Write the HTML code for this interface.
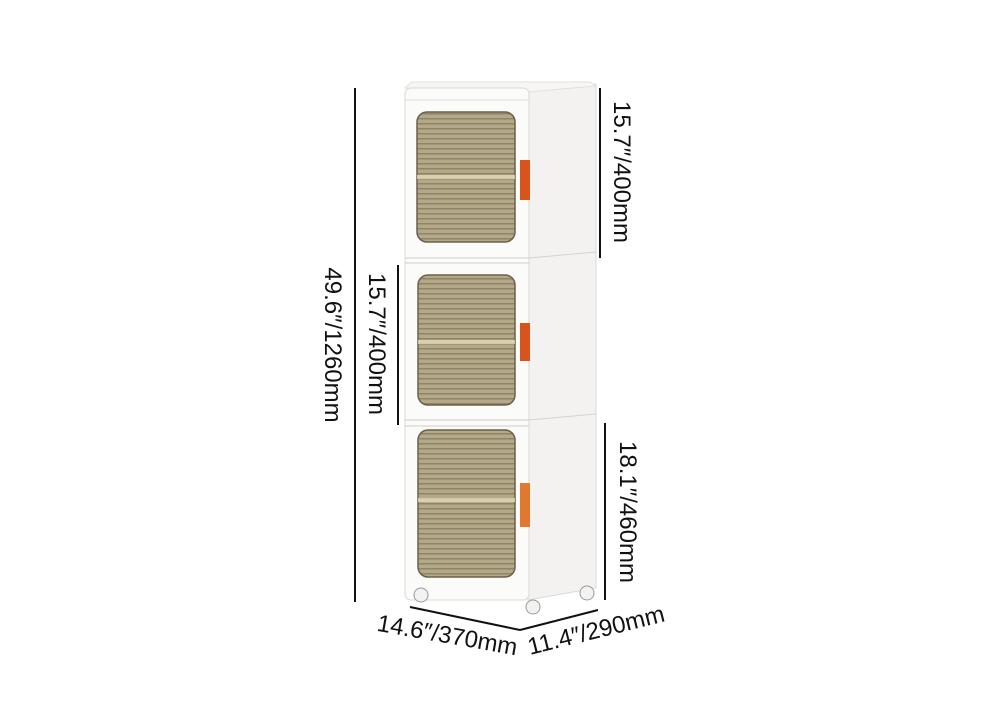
<!DOCTYPE html>
<html><head><style>
body{margin:0;background:#fff;width:1000px;height:700px;overflow:hidden}
text{font-family:"Liberation Sans",sans-serif;font-size:24px;fill:#111}
</style></head><body>
<svg width="1000" height="700" viewBox="0 0 1000 700">
<defs>
<pattern id="st" width="4" height="5" patternUnits="userSpaceOnUse"><rect width="4" height="5" fill="#b3a888"/><rect y="3" width="4" height="1.5" fill="#8f8468"/></pattern>
</defs>
<polygon points="528,90 596,84 596,588 528,600" fill="#f3f2f0" stroke="#dcdad6"/>
<polygon points="405,88 412,82 590,82 596,86 528,92" fill="#f7f6f4" stroke="#e2e0dc"/>
<rect x="405" y="88" width="124" height="512" rx="6" fill="#fbfbfa" stroke="#dad8d4"/>
<line x1="405" y1="258" x2="529" y2="258" stroke="#cfcdc9"/><line x1="405" y1="263" x2="529" y2="263" stroke="#cfcdc9"/>
<line x1="405" y1="420" x2="529" y2="420" stroke="#cfcdc9"/><line x1="405" y1="426" x2="529" y2="426" stroke="#cfcdc9"/>
<line x1="405" y1="100" x2="529" y2="100" stroke="#e0deda"/>
<line x1="529" y1="258" x2="596" y2="252" stroke="#d5d3cf"/><line x1="529" y1="420" x2="596" y2="414" stroke="#d5d3cf"/>
<rect x="417" y="112" width="98" height="130" rx="10" fill="url(#st)" stroke="#6a604a" stroke-width="1.5"/>
<rect x="418" y="275" width="97" height="130" rx="10" fill="url(#st)" stroke="#6a604a" stroke-width="1.5"/>
<rect x="418" y="430" width="97" height="147" rx="10" fill="url(#st)" stroke="#6a604a" stroke-width="1.5"/>
<rect x="417" y="175" width="98" height="4" fill="#e3d9b5" opacity=".8"/>
<rect x="418" y="340" width="97" height="4" fill="#e3d9b5" opacity=".8"/>
<rect x="418" y="498" width="97" height="4" fill="#e3d9b5" opacity=".8"/>
<rect x="520" y="160" width="10" height="40" fill="#d9541c"/>
<rect x="520" y="323" width="10" height="38" fill="#d9541c"/>
<rect x="520" y="483" width="10" height="44" fill="#e0782f"/>
<g fill="#f2f2f2" stroke="#999"><circle cx="421" cy="595" r="7"/><circle cx="533" cy="607" r="7"/><circle cx="587" cy="593" r="7"/></g>
<g stroke="#111" stroke-width="2">
<line x1="355" y1="88" x2="355" y2="602"/>
<line x1="600" y1="88" x2="600" y2="258"/>
<line x1="398" y1="265" x2="398" y2="425"/>
<line x1="605" y1="423" x2="605" y2="600"/>
<line x1="410" y1="607" x2="520" y2="630"/>
<line x1="520" y1="630" x2="598" y2="610"/>
</g>
<text transform="translate(325,345) rotate(90)" text-anchor="middle">49.6″/1260mm</text>
<text transform="translate(614,172) rotate(90)" text-anchor="middle">15.7″/400mm</text>
<text transform="translate(369,344) rotate(90)" text-anchor="middle">15.7″/400mm</text>
<text transform="translate(620,512) rotate(90)" text-anchor="middle">18.1″/460mm</text>
<text transform="translate(446,643) rotate(10)" text-anchor="middle">14.6″/370mm</text>
<text transform="translate(598,638) rotate(-14)" text-anchor="middle">11.4″/290mm</text>
</svg>
</body></html>
